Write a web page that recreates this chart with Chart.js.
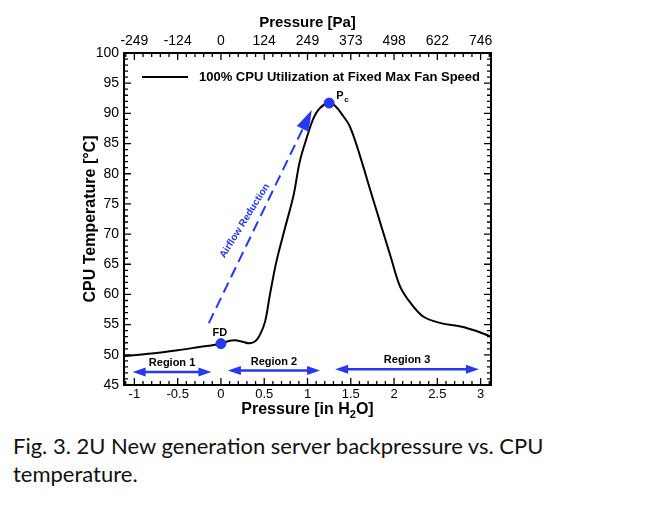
<!DOCTYPE html>
<html>
<head>
<meta charset="utf-8">
<script src="https://cdn.jsdelivr.net/npm/chart.js@4.4.0/dist/chart.umd.min.js"></script>
<style>
  body { margin: 0; background: #fff; }
  #wrap { position: relative; width: 653px; height: 425px; }
  #caption {
    font-family: Lato, "Open Sans", sans-serif;
    font-size: 22px;
    line-height: 28px;
    margin: 7px 0 0 13px;
    color: #111;
  }
</style>
</head>
<body>
<div id="wrap"><canvas id="cpuChart"></canvas></div>
<div id="caption">Fig. 3. 2U New generation server backpressure vs. CPU<br>temperature.</div>
<script>
// curve: pressure [in H2O] vs CPU temperature [C]
const pressureInH2O = [-1.12, -0.8, -0.5, -0.25, 0, 0.08, 0.16, 0.25, 0.33, 0.40,
  0.45, 0.51, 0.565, 0.64, 0.74, 0.84, 0.91, 0.99, 1.07, 1.145,
  1.25, 1.32, 1.40, 1.49, 1.61, 1.725, 1.84, 1.96, 2.07, 2.19,
  2.34, 2.54, 2.77, 2.96, 3.12];
const cpuTemp = [49.8, 50.2, 50.75, 51.3, 51.85, 52.25, 52.4, 52.15, 51.9, 52.3,
  53.3, 55.5, 59.9, 65.4, 71.0, 76.5, 82.0, 85.9, 89.2, 90.9,
  91.7, 91.2, 89.8, 87.8, 82.8, 77.3, 71.9, 66.3, 61.3, 58.6,
  56.3, 55.25, 54.7, 53.9, 53.0];

// top axis labels in Pa (1 in H2O = 249 Pa)
const pressurePaLabels = ['-249', '-124', '0', '124', '249', '373', '498', '622', '746'];
const pressureInLabels = ['-1', '-0.5', '0', '0.5', '1', '1.5', '2', '2.5', '3'];

// marked points: FD and Pc
const markerNames = ['FD', 'P'];
const markerPressure = [0, 1.25];
const markerTemp = [51.85, 91.7];

// region arrows
const regionNames = ['Region 1', 'Region 2', 'Region 3'];
const regionFrom = [-1.02, 0.08, 1.32];
const regionTo = [-0.11, 1.145, 2.98];
const regionTemp = [47.15, 47.4, 47.6];

// dashed "Airflow Reduction" arrow: [pressure, temp]
const airflowFrom = [-0.14, 55.25];
const airflowTo = [1.05, 90.55];
const airflowLabelAt = [0.275, 72.2];

const legendText = '100% CPU Utilization at Fixed Max Fan Speed';
const blue = 'rgb(38,56,240)';
const fontFam = '"Liberation Sans", Arial, sans-serif';

Chart.defaults.font.family = fontFam;
Chart.defaults.color = '#000';

function head(ctx, x, y, angle, len, half) {
  ctx.save();
  ctx.translate(x, y);
  ctx.rotate(angle);
  ctx.beginPath();
  ctx.moveTo(0, 0);
  ctx.lineTo(-len, -half);
  ctx.lineTo(-len, half);
  ctx.closePath();
  ctx.fill();
  ctx.restore();
}

const tickIndex = (v) => Math.round((v + 1) / 0.5);

const extras = {
  id: 'extras',
  afterDraw(chart) {
    const ctx = chart.ctx;
    const a = chart.chartArea;
    const xs = chart.scales.x;
    const ys = chart.scales.y;
    ctx.save();

    // frame
    ctx.strokeStyle = '#000';
    ctx.lineWidth = 2;
    ctx.strokeRect(a.left, a.top, a.right - a.left, a.bottom - a.top);

    // inward ticks, major + minor
    ctx.lineWidth = 1.3;
    ctx.beginPath();
    for (let i = -11; i <= 31; i++) {
      const px = xs.getPixelForValue(i / 10);
      const len = i % 5 === 0 ? 7 : 4;
      ctx.moveTo(px, a.bottom); ctx.lineTo(px, a.bottom - len);
      ctx.moveTo(px, a.top); ctx.lineTo(px, a.top + len);
    }
    for (let v = 45; v <= 100; v++) {
      const py = ys.getPixelForValue(v);
      const len = v % 5 === 0 ? 7 : 4;
      ctx.moveTo(a.left, py); ctx.lineTo(a.left + len, py);
      ctx.moveTo(a.right, py); ctx.lineTo(a.right - len, py);
    }
    ctx.stroke();

    // legend
    ctx.lineWidth = 2;
    ctx.beginPath();
    ctx.moveTo(a.left + 18, a.top + 24);
    ctx.lineTo(a.left + 64, a.top + 24);
    ctx.stroke();
    ctx.fillStyle = '#000';
    ctx.font = 'bold 13px ' + fontFam;
    ctx.textAlign = 'left';
    ctx.textBaseline = 'middle';
    ctx.fillText(legendText, a.left + 75, a.top + 24);

    // axis titles
    const cx = (a.left + a.right) / 2;
    ctx.textAlign = 'center';
    ctx.font = 'bold 15px ' + fontFam;
    ctx.fillText('Pressure [Pa]', cx, a.top - 30);

    ctx.save();
    ctx.translate(a.left - 33, (a.top + a.bottom) / 2);
    ctx.rotate(-Math.PI / 2);
    ctx.font = 'bold 16px ' + fontFam;
    ctx.fillText('CPU Temperature [°C]', 0, 0);
    ctx.restore();

    // Pressure [in H2O] with subscript
    ctx.font = 'bold 16px ' + fontFam;
    const t1 = 'Pressure [in H', t2 = '2', t3 = 'O]';
    const w1 = ctx.measureText(t1).width;
    const w3 = ctx.measureText(t3).width;
    ctx.font = 'bold 11px ' + fontFam;
    const w2 = ctx.measureText(t2).width;
    let tx = cx - (w1 + w2 + w3) / 2;
    const ty = a.bottom + 25;
    ctx.textAlign = 'left';
    ctx.font = 'bold 16px ' + fontFam;
    ctx.fillText(t1, tx, ty);
    ctx.font = 'bold 11px ' + fontFam;
    ctx.fillText(t2, tx + w1, ty + 5);
    ctx.font = 'bold 16px ' + fontFam;
    ctx.fillText(t3, tx + w1 + w2, ty);

    // marker labels
    const fdX = xs.getPixelForValue(markerPressure[0]);
    const fdY = ys.getPixelForValue(markerTemp[0]);
    ctx.font = 'bold 11px ' + fontFam;
    ctx.textAlign = 'center';
    ctx.fillText(markerNames[0], fdX - 1, fdY - 11);
    const pcX = xs.getPixelForValue(markerPressure[1]);
    const pcY = ys.getPixelForValue(markerTemp[1]);
    ctx.textAlign = 'left';
    ctx.fillText(markerNames[1], pcX + 7, pcY - 7);
    ctx.font = 'bold 8px ' + fontFam;
    ctx.fillText('c', pcX + 15, pcY - 3);

    // region arrows
    ctx.fillStyle = blue;
    ctx.strokeStyle = blue;
    ctx.lineWidth = 2.5;
    regionNames.forEach((name, i) => {
      const x1 = xs.getPixelForValue(regionFrom[i]);
      const x2 = xs.getPixelForValue(regionTo[i]);
      const py = ys.getPixelForValue(regionTemp[i]);
      ctx.beginPath();
      ctx.moveTo(x1 + 10, py);
      ctx.lineTo(x2 - 10, py);
      ctx.stroke();
      head(ctx, x2, py, 0, 13, 4.5);
      head(ctx, x1, py, Math.PI, 13, 4.5);
      ctx.fillStyle = '#000';
      ctx.font = 'bold 11px ' + fontFam;
      ctx.textAlign = 'center';
      ctx.fillText(name, (x1 + x2) / 2, py - 9);
      ctx.fillStyle = blue;
    });

    // airflow reduction arrow
    const p1x = xs.getPixelForValue(airflowFrom[0]);
    const p1y = ys.getPixelForValue(airflowFrom[1]);
    const p2x = xs.getPixelForValue(airflowTo[0]);
    const p2y = ys.getPixelForValue(airflowTo[1]);
    const ang = Math.atan2(p2y - p1y, p2x - p1x);
    const hl = 21;
    ctx.lineWidth = 2;
    ctx.setLineDash([11, 6]);
    ctx.beginPath();
    ctx.moveTo(p1x, p1y);
    ctx.lineTo(p2x - hl * Math.cos(ang), p2y - hl * Math.sin(ang));
    ctx.stroke();
    ctx.setLineDash([]);
    head(ctx, p2x, p2y, ang, hl, 6.5);

    ctx.save();
    ctx.translate(xs.getPixelForValue(airflowLabelAt[0]), ys.getPixelForValue(airflowLabelAt[1]));
    ctx.rotate(-58 * Math.PI / 180);
    ctx.font = 'bold 10px ' + fontFam;
    ctx.textAlign = 'center';
    ctx.fillText('Airflow Reduction', 0, 0);
    ctx.restore();

    ctx.restore();
  }
};

const ctx = document.getElementById('cpuChart').getContext('2d');
const cpuChart = new Chart(ctx, {
  type: 'line',
  data: {
    datasets: [{
      label: 'markers',
      data: markerPressure.map((p, i) => ({ x: p, y: markerTemp[i] })),
      showLine: false,
      pointRadius: 5,
      pointBackgroundColor: blue,
      pointBorderColor: blue,
      order: 0
    }, {
      label: legendText,
      data: pressureInH2O.map((p, i) => ({ x: p, y: cpuTemp[i] })),
      borderColor: '#000',
      borderWidth: 2,
      pointRadius: 0,
      tension: 0.35,
      fill: false,
      order: 1
    }]
  },
  options: {
    responsive: true,
    maintainAspectRatio: false,
    animation: false,
    layout: { padding: { left: 0, right: 162, top: 0, bottom: 0 } },
    plugins: { legend: { display: false }, tooltip: { enabled: false } },
    scales: {
      x: {
        type: 'linear',
        position: 'bottom',
        min: -1.12,
        max: 3.12,
        grid: { display: false, drawTicks: false },
        border: { display: false },
        ticks: {
          stepSize: 0.5,
          includeBounds: false,
          padding: 2,
          font: { size: 13 },
          callback: (v) => pressureInLabels[tickIndex(v)]
        },
        afterFit(s) { s.height = 40; }
      },
      x2: {
        type: 'linear',
        position: 'top',
        min: -1.12,
        max: 3.12,
        grid: { display: false, drawTicks: false },
        border: { display: false },
        ticks: {
          stepSize: 0.5,
          includeBounds: false,
          padding: 3,
          font: { size: 14 },
          callback: (v) => pressurePaLabels[tickIndex(v)]
        },
        afterFit(s) { s.height = 53; }
      },
      y: {
        min: 45,
        max: 100,
        grid: { display: false, drawTicks: false },
        border: { display: false },
        ticks: { stepSize: 5, padding: 5, font: { size: 14 } },
        afterFit(s) { s.width = 124; }
      }
    }
  },
  plugins: [extras]
});
</script>
</body>
</html>
